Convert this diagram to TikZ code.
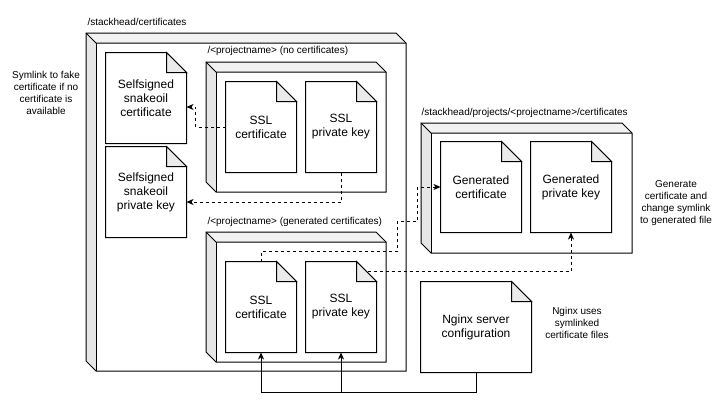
\documentclass[tikz,border=0pt]{standalone}
\usepackage{fontspec}
\setmainfont{Liberation Sans}
\usetikzlibrary{arrows.meta}
\definecolor{sidegray}{HTML}{E6E6E6}
\definecolor{topgray}{HTML}{F2F2F2}
\definecolor{foldgray}{HTML}{EBEBEB}
\newcommand\cubebox[4]{%
  \fill[white] (#1+10,#2+10) rectangle (#3,#4);
  \fill[topgray] (#1,#2) -- (#3-10,#2) -- (#3,#2+10) -- (#1+10,#2+10) -- cycle;
  \fill[sidegray] (#1,#2) -- (#1+10,#2+10) -- (#1+10,#4) -- (#1,#4-10) -- cycle;
  \draw (#1,#2) -- (#3-10,#2) -- (#3,#2+10) -- (#3,#4) -- (#1+10,#4) -- (#1,#4-10) -- cycle;
  \draw (#1,#2) -- (#1+10,#2+10) -- (#3,#2+10);
  \draw (#1+10,#2+10) -- (#1+10,#4);
}
\newcommand\docfold[1]{%
  \draw ([xshift=-20pt]#1.north east) -- (#1.north west) -- (#1.south west) -- (#1.south east) -- ([yshift=-20pt]#1.north east) -- cycle;
  \draw[fill=foldgray] ([xshift=-20pt]#1.north east) -- ([xshift=-20pt,yshift=-20pt]#1.north east) -- ([yshift=-20pt]#1.north east) -- cycle;
}
\tikzset{
  doc/.style={inner sep=0, align=center, fill=white, font=\fontsize{12}{14}\selectfont},
  lbl/.style={inner sep=0, anchor=west, font=\fontsize{10}{12}\selectfont},
  note/.style={inner sep=0, align=center, font=\fontsize{10}{12}\selectfont},
  link/.style={-{Stealth[length=7pt,width=6pt,inset=2pt]}},
  dlink/.style={link, dash pattern=on 3pt off 3pt},
}
\begin{document}
\begin{tikzpicture}[x=1pt, y=-1pt, line width=1pt, line join=miter]
\useasboundingbox (0,0) rectangle (723,407);
% boxes
\cubebox{86}{33}{406}{371}
\cubebox{206}{62}{386}{192}
\cubebox{206}{232}{386}{362}
\cubebox{421}{123}{632}{253}
% box labels
\node[lbl] (l1) at (87,22) {/stackhead/certificates};
\node[lbl] (l2) at (207,51) {/<projectname> (no certificates)};
\node[lbl] (l3) at (207,222) {/<projectname> (generated certificates)};
\node[lbl] (l4) at (421,113) {/stackhead/projects/<projectname>/certificates};
% documents
\node[doc, minimum width=80pt, minimum height=90pt] (selfA) at (146,98) {Selfsigned\\snakeoil\\certificate};
\docfold{selfA}
\node[doc, minimum width=80pt, minimum height=90pt] (selfB) at (146,192) {Selfsigned\\snakeoil\\private key};
\docfold{selfB}
\node[doc, minimum width=70pt, minimum height=90pt] (sslA) at (261,127) {SSL\\certificate};
\docfold{sslA}
\node[doc, minimum width=70pt, minimum height=90pt] (sslB) at (341,127) {SSL\\private key};
\docfold{sslB}
\node[doc, minimum width=70pt, minimum height=90pt] (sslC) at (261,307) {SSL\\certificate};
\docfold{sslC}
\node[doc, minimum width=70pt, minimum height=90pt] (sslD) at (341,307) {SSL\\private key};
\docfold{sslD}
\node[doc, minimum width=80pt, minimum height=90pt] (genA) at (481,187) {Generated\\certificate};
\docfold{genA}
\node[doc, minimum width=80pt, minimum height=90pt] (genB) at (571,187) {Generated\\private key};
\docfold{genB}
\node[doc, minimum width=110pt, minimum height=90pt] (nginx) at (476,327) {Nginx server\\configuration};
\docfold{nginx}
% notes
\node[note] (n1) at (46,93) {Symlink to fake\\certificate if no\\certificate is\\available};
\node[note] (n2) at (676,203) {Generate\\certificate and\\change symlink\\to generated file};
\node[note] (n3) at (577,323) {Nginx uses\\symlinked\\certificate files};
% dashed connectors
\draw[dlink] (sslA.west) -- ++(-30,0) |- ([yshift=-9pt]selfA.east);
\draw[dlink] (sslB.south) |- ([yshift=-10pt]selfB.east);
\draw[dlink] (sslC.north) -- ++(0,-10) -- ++(136,0) -- ++(0,-30) -- ++(20,0) |- (genA.west);
\draw[dlink] ([xshift=-9pt,yshift=-10pt]sslD.north east) -| (genB.south);
% solid connectors
\coordinate (j) at ([yshift=-20pt]nginx.south);
\draw[link] (nginx.south) -- (j) -| (sslC.south);
\draw[link] (j -| sslD.south) -- (sslD.south);
\end{tikzpicture}
\end{document}
